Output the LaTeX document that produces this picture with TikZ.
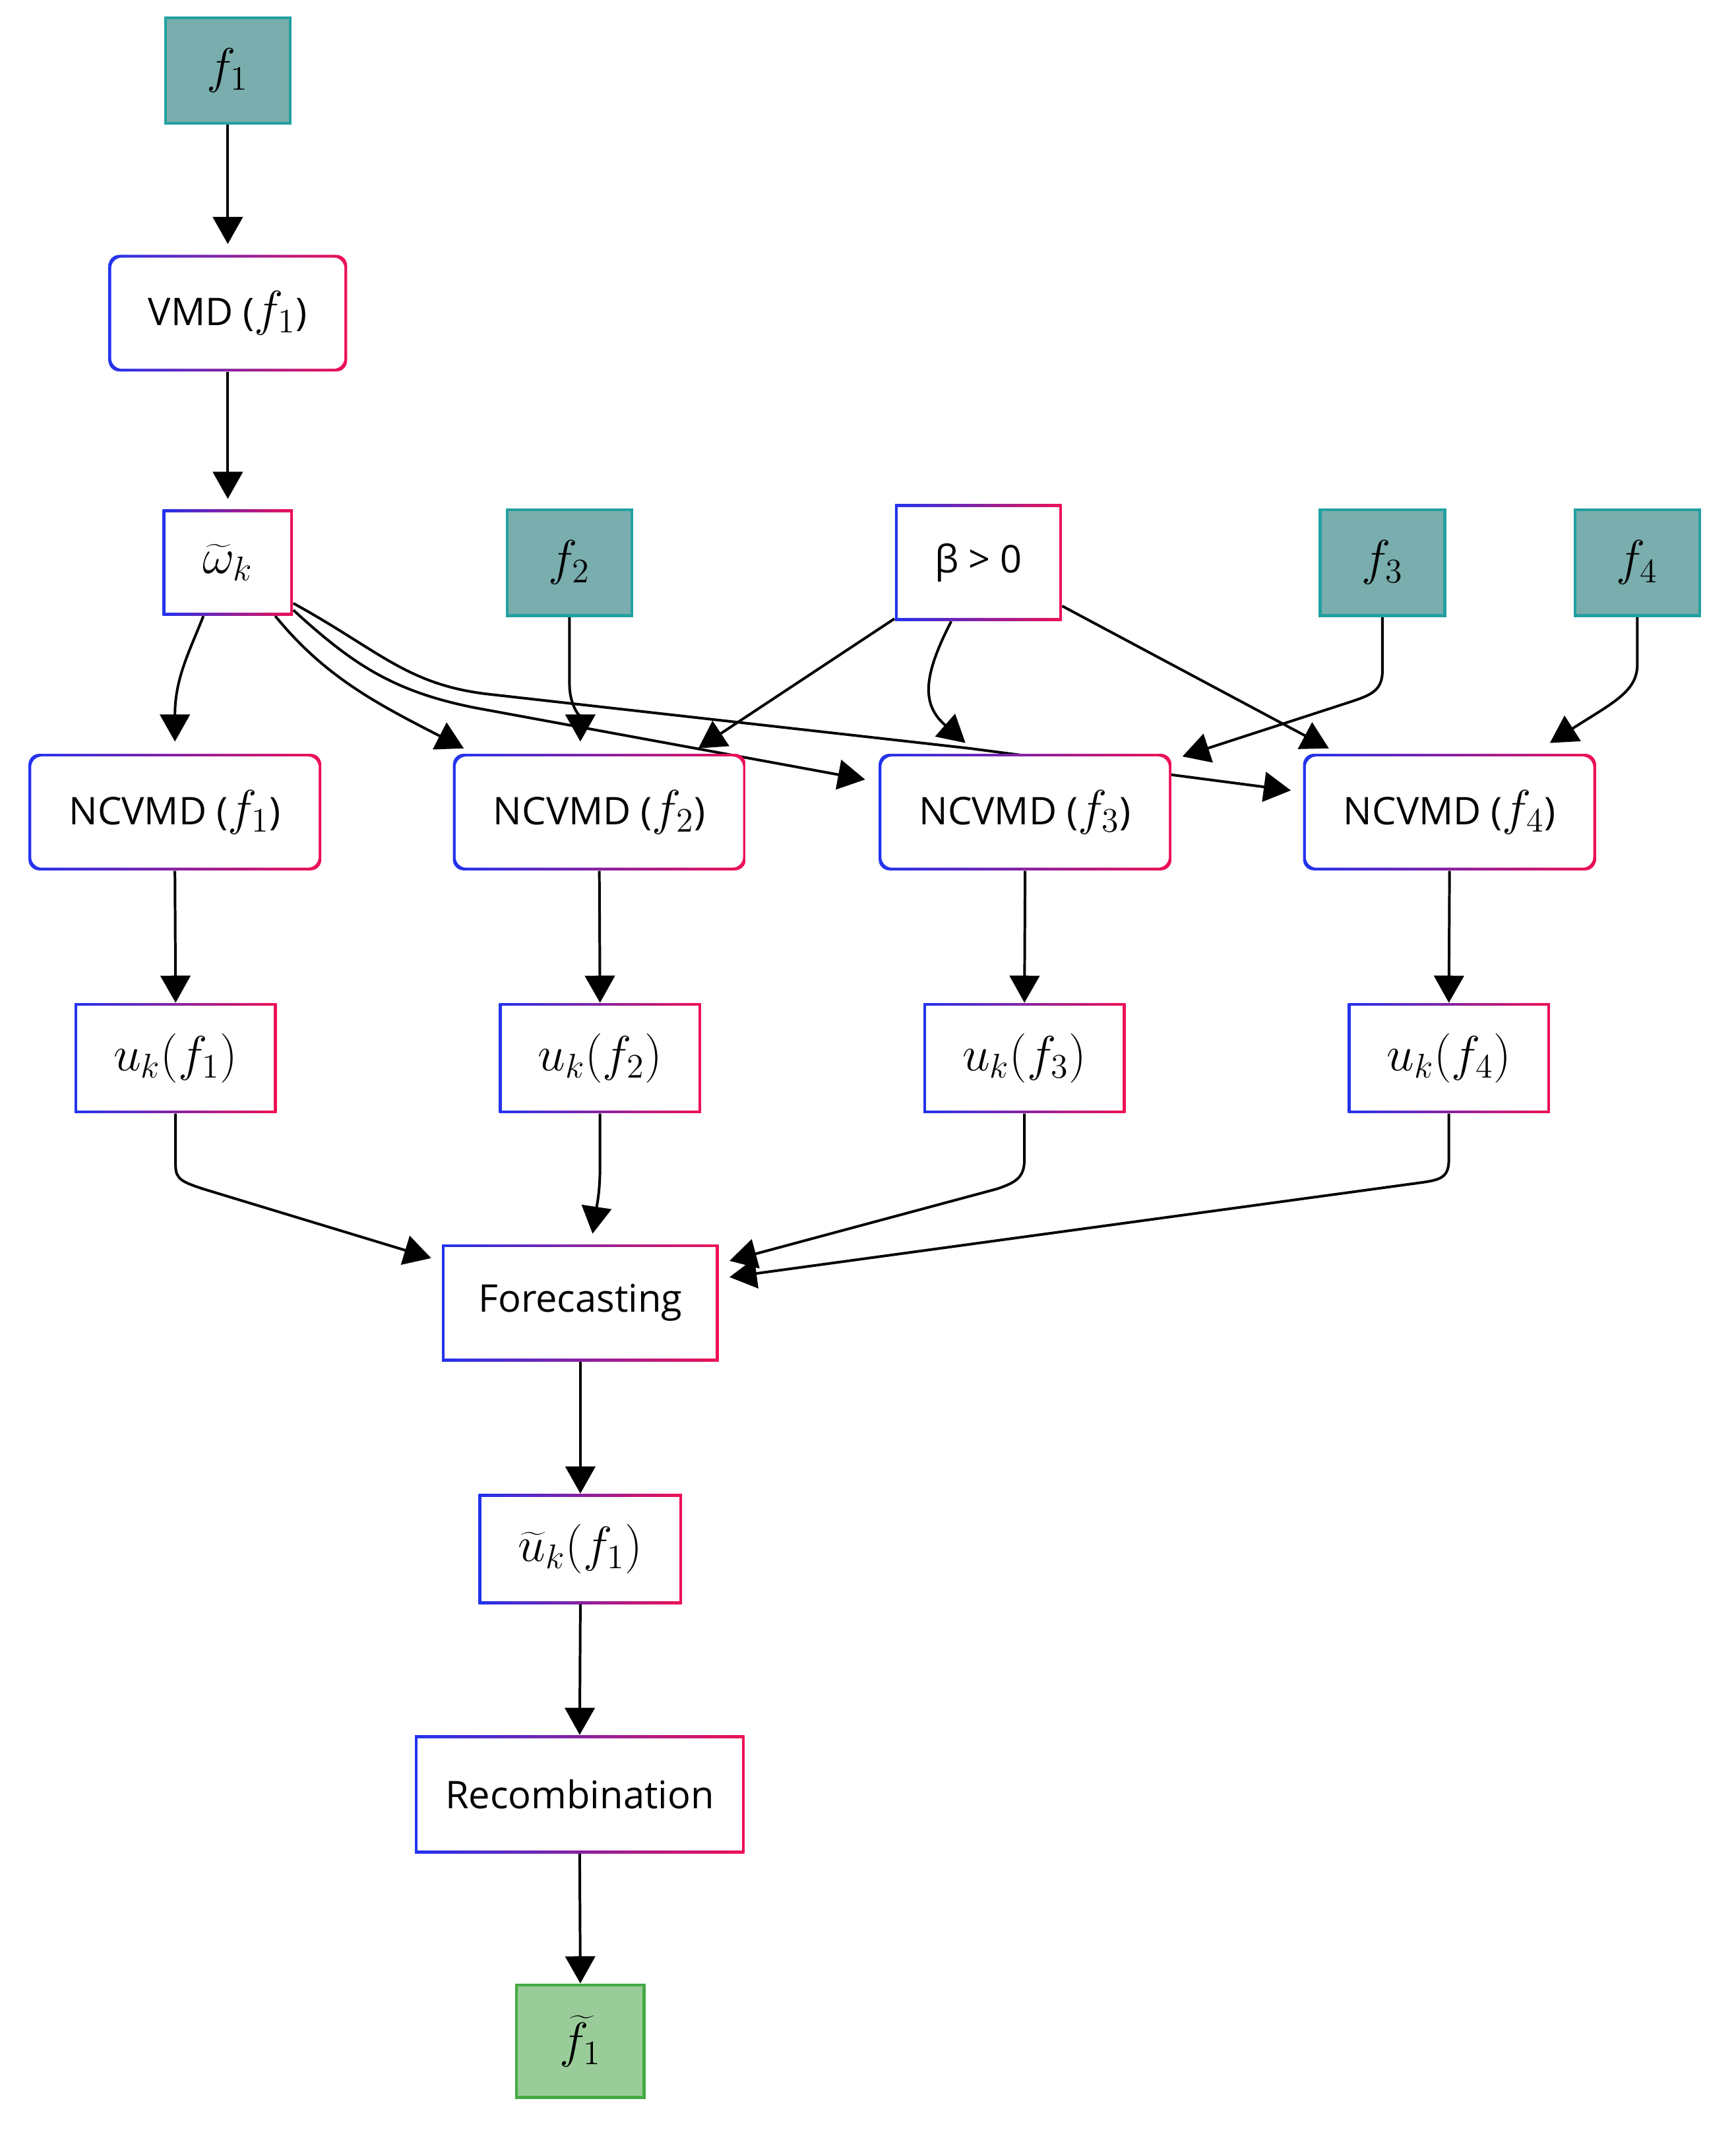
\documentclass[tikz,border=0pt]{standalone}
\usepackage{fontspec}
\setmainfont{Open Sans}
\usetikzlibrary{arrows.meta}
\definecolor{cb}{HTML}{2233EE}
\definecolor{cr}{HTML}{EE1155}
\definecolor{tealf}{HTML}{7AADAD}
\definecolor{teald}{HTML}{22A0A0}
\definecolor{grf}{HTML}{99CC99}
\definecolor{grd}{HTML}{44AA44}
\pgfdeclarelayer{bg}\pgfsetlayers{bg,main}
\newcommand\mf[1]{{\fontsize{20}{22}\selectfont$#1$}}
\newcommand\gbox[7]{%
 \shade[left color=cb,right color=cr,rounded corners=#6] (#2-#4/2,#3-#5/2) rectangle (#2+#4/2,#3+#5/2);
 \fill[white,rounded corners=#6] (#2-#4/2+2,#3-#5/2+2) rectangle (#2+#4/2-2,#3+#5/2-2);
 \node[inner sep=0pt,minimum width=#4*0.2mm,minimum height=#5*0.2mm] (#1) at (#2,#3) {#7};}
\newcommand\tbox[6]{%
 \node[draw=#5,fill=#6,line width=1.2pt,inner sep=0pt,minimum width=92*0.2mm,minimum height=78*0.2mm,font=\fontsize{22}{24}\selectfont] (#1) at (#2,#3) {#4};}
\begin{document}
\begin{tikzpicture}[x=0.2mm,y=-0.2mm,font=\fontsize{16}{19}\selectfont,
 ar/.style={line width=1.1pt,-{Triangle[width=0.44cm,length=0.4cm]}}]
\useasboundingbox (0,0) rectangle (1280,1577);
\tbox{f1}{168}{52}{$f_1$}{teald}{tealf}
\gbox{vmd}{168}{231}{176}{86}{0.16cm}{VMD (\mf{f_1})}
\gbox{om}{168}{415}{96}{78}{0pt}{\mf{\widetilde{\omega}_k}}
\tbox{f2}{420}{415}{$f_2$}{teald}{tealf}
\gbox{beta}{721.5}{415}{123}{86}{0pt}{β > 0}
\tbox{f3}{1019.5}{415}{$f_3$}{teald}{tealf}
\tbox{f4}{1207.5}{415}{$f_4$}{teald}{tealf}
\gbox{n1}{129}{599}{216}{86}{0.16cm}{NCVMD (\mf{f_1})}
\gbox{n2}{442}{599}{216}{86}{0.16cm}{NCVMD (\mf{f_2})}
\gbox{n3}{756}{599}{216}{86}{0.16cm}{NCVMD (\mf{f_3})}
\gbox{n4}{1069}{599}{216}{86}{0.16cm}{NCVMD (\mf{f_4})}
\gbox{u1}{129.5}{780.5}{149}{81}{0pt}{\mf{u_k(f_1)}}
\gbox{u2}{442.5}{780.5}{149}{81}{0pt}{\mf{u_k(f_2)}}
\gbox{u3}{755.5}{780.5}{149}{81}{0pt}{\mf{u_k(f_3)}}
\gbox{u4}{1068.5}{780.5}{149}{81}{0pt}{\mf{u_k(f_4)}}
\gbox{fc}{428}{961}{204}{86}{0pt}{Forecasting}
\gbox{ut}{428}{1142.5}{150}{81}{0pt}{\mf{\widetilde{u}_k(f_1)}}
\gbox{rc}{427.5}{1323.5}{243}{87}{0pt}{Recombination}
\node[draw=grd,fill=grf,line width=1.2pt,inner sep=0pt,minimum width=94*0.2mm,minimum height=83*0.2mm,font=\fontsize{22}{24}\selectfont] (ft) at (428,1505.5) {$\widetilde{f}_1$};
\begin{pgfonlayer}{bg}
\draw[ar] (f1.south) -- (168,180);
\draw[ar] (vmd.south) -- (168,368);
\draw[ar] (om.south) ++(-18,0) .. controls (140,480) and (129,500) .. (129,547);
\draw[ar] (om.south) ++(35,0) .. controls (240,500) and (280,520) .. (342,552);
\draw[ar] (om.east) ++(0,35) .. controls (260,490) and (290,510) .. (350,522) -- (638,575);
\draw[ar] (om.east) ++(0,30) .. controls (280,480) and (300,505) .. (360,512) -- (715,552) -- (952,583);
\draw[ar] (f2.south) -- (420,505) .. controls (420,520) and (428,530) .. (428,547);
\draw[ar] (beta.south west) ++(0,-2) -- (515,552);
\draw[ar] (beta.south) ++(-20,0) .. controls (680,500) and (680,520) .. (712,548);
\draw[ar] (beta.east) ++(0,32) -- (980,552);
\draw[ar] (f3.south) -- (1019.5,495) .. controls (1019.5,510) and (1010,513) .. (995,518) -- (872,558);
\draw[ar] (f4.south) -- (1207.5,490) .. controls (1207.5,510) and (1190,518) .. (1143,548);
\foreach \i in {1,2,3,4}{\draw[ar] (n\i.south) -- (u\i.north);}
\draw[ar] (u1.south) -- (129.5,860) .. controls (129.5,870) and (135,872) .. (150,877) -- (318,928);
\draw[ar] (u2.south) -- (442.5,860) .. controls (442.5,880) and (440,890) .. (437,910);
\draw[ar] (u3.south) -- (755.5,855) .. controls (755.5,868) and (750,872) .. (735,877) -- (538,930);
\draw[ar] (u4.south) -- (1068.5,855) .. controls (1068.5,868) and (1063,870) .. (1050,872) -- (538,942);
\draw[ar] (fc.south) -- (ut.north);
\draw[ar] (ut.south) -- (rc.north);
\draw[ar] (rc.south) -- (ft.north);
\end{pgfonlayer}
\end{tikzpicture}
\end{document}
